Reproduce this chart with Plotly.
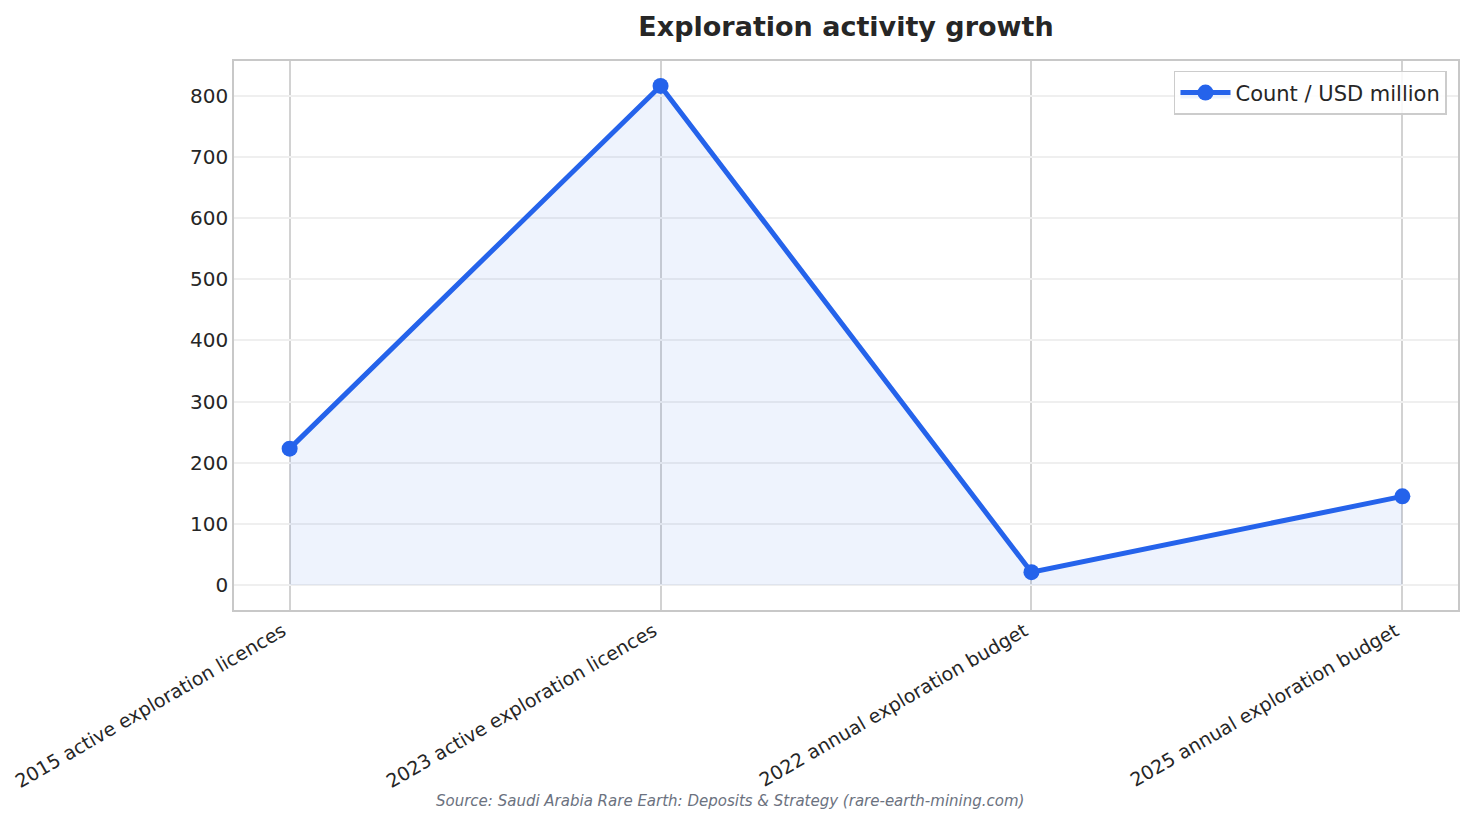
import plotly.graph_objects as go

# data
categories = [
    "2015 active exploration licences",
    "2023 active exploration licences",
    "2022 annual exploration budget",
    "2025 annual exploration budget",
]
values = [223, 816, 21, 145]
series_name = "Count / USD million"
y_ticks = [0, 100, 200, 300, 400, 500, 600, 700, 800]

BLUE = "#2563eb"
FONT = "DejaVu Sans"

# the page body adds an 8px margin, so the figure is drawn 8px smaller
W, H = 1472 - 8, 824 - 8

fig = go.Figure()

fig.add_trace(
    go.Scatter(
        x=categories,
        y=values,
        name=series_name,
        mode="lines+markers",
        line=dict(color=BLUE, width=5),
        marker=dict(color=BLUE, size=16),
        fill="tozeroy",
        fillcolor="rgba(37,99,235,0.08)",
    )
)

# matplotlib-like 5% margins around the data (fill goes down to 0)
lo, hi = min(0, min(values)), max(values)
pad = 0.05 * (hi - lo)

fig.update_layout(
    width=W,
    height=H,
    margin=dict(l=226, r=14, t=53, b=214),
    paper_bgcolor="white",
    plot_bgcolor="white",
    font=dict(family=FONT, size=20, color="#262626"),
    title=dict(
        text="<b>Exploration activity growth</b>",
        x=0.5,
        xref="paper",
        xanchor="center",
        y=1 - 19 / H,
        yref="container",
        yanchor="middle",
        font=dict(family=FONT, size=27, color="#262626"),
    ),
    showlegend=True,
    legend=dict(
        x=0.991,
        y=0.982,
        xanchor="right",
        yanchor="top",
        bgcolor="rgba(255,255,255,0.85)",
        bordercolor="#cccccc",
        borderwidth=1.5,
        itemwidth=50,
        font=dict(family=FONT, size=21, color="#262626"),
    ),
)

fig.update_xaxes(
    type="category",
    range=[-0.15, len(categories) - 1 + 0.15],
    tickangle=-30,
    ticklabelshift=-7,
    automargin=False,
    tickfont=dict(family=FONT, size=19, color="#262626"),
    showgrid=True,
    gridcolor="#d2d2d2",
    gridwidth=1.5,
    showline=True,
    linecolor="#c8c8c8",
    linewidth=1.5,
    mirror=True,
    ticks="outside",
    ticklen=1,
    tickcolor="rgba(0,0,0,0)",
    zeroline=False,
)

fig.update_yaxes(
    range=[lo - pad, hi + pad],
    tickvals=y_ticks,
    automargin=False,
    tickfont=dict(family=FONT, size=20, color="#262626"),
    showgrid=True,
    gridcolor="#efefef",
    gridwidth=1.5,
    showline=True,
    linecolor="#c8c8c8",
    linewidth=1.5,
    mirror=True,
    ticks="",
    zeroline=False,
)

fig.add_annotation(
    text="<i>Source: Saudi Arabia Rare Earth: Deposits &amp; Strategy (rare-earth-mining.com)</i>",
    xref="paper",
    yref="paper",
    x=(730 - 234) / 1224,
    y=(610 - 801) / 549,
    xanchor="center",
    yanchor="middle",
    showarrow=False,
    font=dict(family=FONT, size=15, color="#6b7280"),
)

fig.write_html("out.html")
